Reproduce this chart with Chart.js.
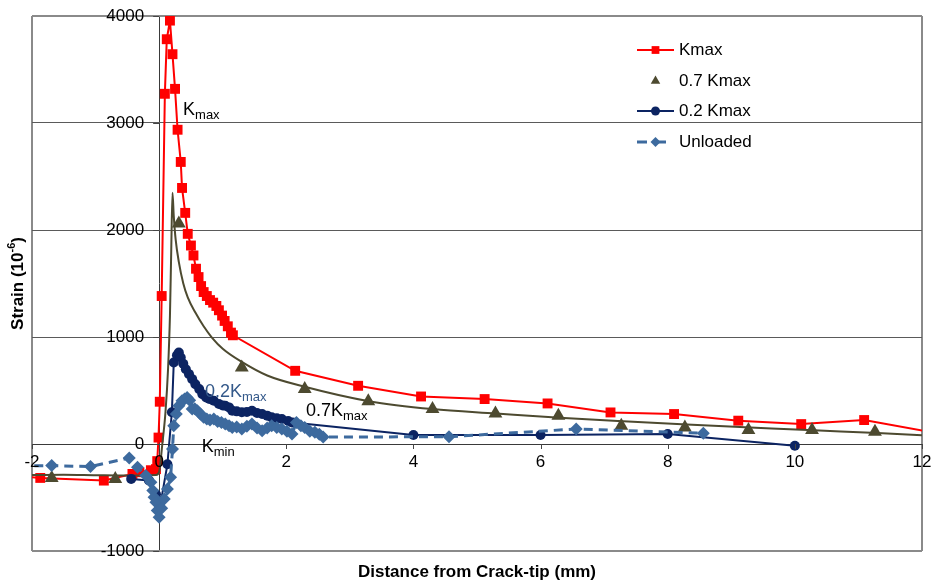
<!DOCTYPE html>
<html><head><meta charset="utf-8">
<script src="https://cdn.jsdelivr.net/npm/chart.js@4.4.0/dist/chart.umd.min.js"></script>
<style>html,body{margin:0;padding:0;background:#fff;}#wrap{width:936px;height:586px;}</style>
</head><body><div id="wrap"><canvas id="c" width="936" height="586"></canvas></div>
<script>
// ---- data ----
const kmaxX = [-2.2,-1.87,-0.87,-0.42,-0.31,-0.13,-0.05,-0.03,-0.01,0.01,0.04,0.09,0.12,0.17,0.21,0.25,0.29,0.34,0.36,0.41,0.45,0.50,0.54,0.58,0.62,0.66,0.70,0.75,0.80,0.85,0.90,0.94,0.99,1.03,1.08,1.13,1.16,2.14,3.13,4.12,5.12,6.11,7.10,8.10,9.11,10.10,11.09,12.2];
const kmaxY = [-300,-317,-342,-280,-264,-245,-235,-160,60,395,1383,3273,3783,3957,3643,3319,2937,2636,2393,2160,1964,1855,1762,1638,1560,1476,1420,1383,1345,1321,1290,1250,1200,1150,1100,1041,1016,684,544,444,420,379,295,280,218,186,224,105];

const k07X = [-1.69,-0.69,0.31,1.30,2.29,3.29,4.30,5.29,6.28,7.27,8.27,9.27,10.27,11.26];
const k07Y = [-317,-326,2061,715,513,400,326,286,264,171,155,131,131,115];

const k07FitX = [-2,-1.5,-1,-0.5,-0.05,0.0,0.05,0.10,0.14,0.17,0.19,0.21,0.23,0.26,0.31,0.38,0.45,0.57,0.70,0.83,1.0,1.3,1.7,2.29,3.3,4.3,5.3,6.3,7.3,8.3,9.3,10.3,11.3,12];
const k07FitY = [-290,-288,-292,-295,-290,-260,0,300,700,1200,1800,2347,2130,1910,1700,1500,1370,1228,1100,995,890,767,640,535,400,326,285,245,212,182,155,128,102,82];

const k02X = [-0.44,-0.16,-0.05,0.0,0.03,0.13,0.20,0.23,0.28,0.31,0.34,0.38,0.42,0.47,0.52,0.57,0.63,0.68,0.74,0.79,0.86,0.94,1.0,1.04,1.10,1.15,1.22,1.30,1.38,1.46,1.54,1.62,1.70,1.77,1.85,1.93,2.03,2.10,4.0,6.0,8.0,10.0];
const k02Y = [-326,-340,-470,-600,-530,-190,296,762,830,855,808,750,699,653,606,559,513,466,435,420,404,373,360,357,342,311,305,296,300,311,290,280,265,249,240,233,215,200,84,84,93,-16];

const unX = [-2.2,-1.69,-1.08,-0.47,-0.34,-0.21,-0.13,-0.10,-0.08,-0.05,-0.03,0.0,0.04,0.08,0.13,0.18,0.21,0.23,0.27,0.31,0.36,0.40,0.44,0.48,0.52,0.56,0.60,0.65,0.70,0.75,0.80,0.86,0.92,0.98,1.04,1.10,1.15,1.22,1.30,1.38,1.46,1.54,1.62,1.70,1.77,1.85,1.93,2.01,2.09,2.16,2.23,2.29,2.37,2.45,2.52,2.58,4.56,6.56,8.56];
const unY = [-205,-202,-211,-130,-217,-295,-357,-435,-497,-544,-622,-684,-600,-513,-420,-311,-47,171,280,357,404,420,435,410,326,330,311,280,250,233,225,233,210,202,186,170,155,160,140,165,186,150,124,150,171,155,140,120,93,202,170,155,120,109,90,65,68,140,100];

const xTickValues = [-2,0,2,4,6,8,10,12];
const xTickLabels = ['-2','0','2','4','6','8','10','12'];
const yTickValues = [-1000,0,1000,2000,3000,4000];
const yTickLabels = ['-1000','0','1000','2000','3000','4000'];

const seriesNames = ['Kmax','0.7 Kmax','0.2 Kmax','Unloaded'];
const xTitle = 'Distance from Crack-tip (mm)';

// annotations: [main, subscript, x, y, color]
const notes = [
  ['K','max',0.376,3077,'#000'],
  ['0.2K','max',0.72,438,'#34598a'],
  ['0.7K','max',2.31,264,'#000'],
  ['K','min',0.67,-75,'#000']
];

// ---- styles ----
const RED='#ff0000', OLIVE='#4d4a30', NAVY='#0c2462', STEEL='#3d6a9e';
const FONT='"Liberation Sans", Arial, sans-serif';
const pts=(xs,ys)=>xs.map((x,i)=>({x:x,y:ys[i]}));

const datasets = [
  {label:seriesNames[3], data:pts(unX,unY), showLine:true, borderColor:STEEL, backgroundColor:STEEL, borderWidth:3, borderDash:[9,6], pointStyle:'rectRot', pointRadius:6.5, pointBorderWidth:0, order:1},
  {label:seriesNames[2], data:pts(k02X,k02Y), showLine:true, borderColor:NAVY, backgroundColor:NAVY, borderWidth:2, pointStyle:'circle', pointRadius:5, pointBorderWidth:0, order:2},
  {label:seriesNames[1], data:pts(k07X,k07Y), showLine:false, borderColor:OLIVE, backgroundColor:OLIVE, pointStyle:'triangle', pointRadius:8, pointBorderWidth:0, order:3},
  {label:'fit', data:pts(k07FitX,k07FitY), showLine:true, borderColor:OLIVE, borderWidth:2, pointRadius:0, cubicInterpolationMode:'monotone', order:4},
  {label:seriesNames[0], data:pts(kmaxX,kmaxY), showLine:true, borderColor:RED, backgroundColor:RED, borderWidth:2, pointStyle:'rect', pointRadius:7, pointBorderWidth:0, order:5}
];

const legendItems = [
  {name:seriesNames[0], color:RED, line:true, dash:null, style:'rect', r:5.5},
  {name:seriesNames[1], color:OLIVE, line:false, dash:null, style:'triangle', r:5.5},
  {name:seriesNames[2], color:NAVY, line:true, dash:null, style:'circle', r:4.5},
  {name:seriesNames[3], color:STEEL, line:true, dash:[10,9], style:'rectRot', r:5}
];

const deco = {
  id:'deco',
  afterDatasetsDraw(chart){
    const ctx=chart.ctx, xs=chart.scales.x, ys=chart.scales.y, ca=chart.chartArea;
    const x0=xs.getPixelForValue(0), y0=ys.getPixelForValue(0);
    ctx.save();
    // tick marks
    ctx.strokeStyle='#444'; ctx.lineWidth=1;
    yTickValues.forEach(v=>{const p=Math.round(ys.getPixelForValue(v))+0.5;ctx.beginPath();ctx.moveTo(x0-6,p);ctx.lineTo(x0,p);ctx.stroke();});
    xTickValues.forEach(v=>{const p=Math.round(xs.getPixelForValue(v))+0.5;ctx.beginPath();ctx.moveTo(p,y0);ctx.lineTo(p,y0+5);ctx.stroke();});
    // tick labels
    ctx.fillStyle='#000'; ctx.font='17px '+FONT;
    ctx.textAlign='right'; ctx.textBaseline='middle';
    yTickValues.forEach((v,i)=>ctx.fillText(yTickLabels[i], x0-15, ys.getPixelForValue(v)));
    ctx.textAlign='center'; ctx.textBaseline='top';
    xTickValues.forEach((v,i)=>ctx.fillText(xTickLabels[i], xs.getPixelForValue(v), y0+10));
    // axis titles
    ctx.font='bold 17px '+FONT; ctx.textBaseline='middle'; ctx.textAlign='center';
    ctx.fillText(xTitle, (ca.left+ca.right)/2, 572);
    ctx.save();
    ctx.translate(18,(ca.top+ca.bottom)/2); ctx.rotate(-Math.PI/2);
    const a='Strain (10', s='-6', b=')';
    ctx.font='bold 17px '+FONT; const wa=ctx.measureText(a).width, wb=ctx.measureText(b).width;
    ctx.font='bold 11px '+FONT; const ws=ctx.measureText(s).width;
    let sx=-(wa+ws+wb)/2; ctx.textAlign='left';
    ctx.font='bold 17px '+FONT; ctx.fillText(a,sx,0); sx+=wa;
    ctx.font='bold 11px '+FONT; ctx.fillText(s,sx,-6); sx+=ws;
    ctx.font='bold 17px '+FONT; ctx.fillText(b,sx,0);
    ctx.restore();
    // annotations
    ctx.textAlign='left'; ctx.textBaseline='alphabetic';
    notes.forEach(n=>{
      const px=xs.getPixelForValue(n[2]), py=ys.getPixelForValue(n[3]);
      ctx.fillStyle=n[4];
      ctx.font='18px '+FONT; ctx.fillText(n[0],px,py);
      const w=ctx.measureText(n[0]).width;
      ctx.font='13px '+FONT; ctx.fillText(n[1],px+w,py+4);
    });
    // legend
    const lx0=637, lx1=674, tx=679, ly=[50,81,111,142];
    legendItems.forEach((it,i)=>{
      const y=ly[i], cx=(lx0+lx1)/2;
      ctx.strokeStyle=it.color; ctx.fillStyle=it.color;
      if(it.line){
        ctx.lineWidth= it.dash?3:2;
        ctx.setLineDash(it.dash||[]);
        ctx.beginPath(); ctx.moveTo(lx0,y); ctx.lineTo(lx1,y); ctx.stroke();
        ctx.setLineDash([]);
      }
      Chart.helpers.drawPoint(ctx,{pointStyle:it.style,radius:it.r,rotation:0,borderWidth:0},cx,y);
      ctx.fillStyle='#000'; ctx.font='17px '+FONT; ctx.textAlign='left'; ctx.textBaseline='middle';
      ctx.fillText(it.name,tx,y);
    });
    ctx.restore();
  }
};

function gridColor(edgeVals, axis){
  return c=>{const v=c.tick.value; if(edgeVals.includes(v)) return '#8a8a8a'; if(v===0) return '#3a3a3a'; return axis==='y'?'#5a5a5a':'rgba(0,0,0,0)';};
}

new Chart(document.getElementById('c'),{
  type:'scatter',
  data:{datasets:datasets},
  options:{
    responsive:false, animation:false,
    layout:{padding:{left:32,top:16,right:14,bottom:35}},
    plugins:{legend:{display:false},tooltip:{enabled:false}},
    scales:{
      x:{type:'linear',min:-2,max:12,ticks:{stepSize:2,display:false},
         grid:{drawTicks:false,color:gridColor([-2,12],'x'),lineWidth:c=>([-2,12].includes(c.tick.value)?2:1)},
         border:{display:false}},
      y:{type:'linear',min:-1000,max:4000,ticks:{stepSize:1000,display:false},
         grid:{drawTicks:false,color:gridColor([-1000,4000],'y'),lineWidth:c=>([-1000,4000].includes(c.tick.value)?2:1)},
         border:{display:false}}
    }
  },
  plugins:[deco]
});
</script></body></html>
